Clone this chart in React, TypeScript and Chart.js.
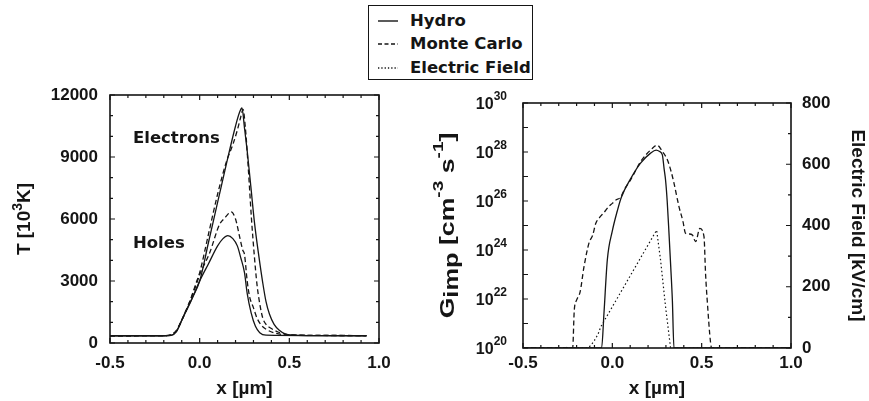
import { useEffect, useRef } from "react";
import { Chart, registerables } from "chart.js";

Chart.register(...registerables);

// ---------- Left panel: carrier temperature ----------
const elecHydroX = [-0.5, -0.2, -0.16, -0.13, -0.11, -0.08, -0.04, 0.0, 0.05, 0.1, 0.15, 0.2, 0.222, 0.236, 0.25, 0.265, 0.285, 0.306, 0.33, 0.352, 0.37, 0.389, 0.415, 0.444, 0.48, 0.55, 0.7, 0.93];
const elecHydroT = [350, 350, 370, 550, 900, 1500, 2200, 3000, 4900, 6800, 8700, 10500, 11150, 11370, 10400, 9300, 7600, 5800, 4200, 2900, 2000, 1400, 900, 620, 430, 370, 360, 350];

const elecMcX = [-0.5, -0.2, -0.16, -0.13, -0.1, -0.06, -0.02, 0.0, 0.05, 0.1, 0.15, 0.185, 0.21, 0.228, 0.242, 0.255, 0.27, 0.289, 0.305, 0.32, 0.335, 0.352, 0.37, 0.4, 0.44, 0.5, 0.6, 0.93];
const elecMcT = [350, 360, 400, 600, 1100, 1900, 2900, 3400, 5300, 7200, 8800, 9600, 10300, 10900, 11300, 10400, 8600, 6000, 4200, 2800, 1900, 1200, 900, 700, 520, 400, 370, 360];

const holeHydroX = [-0.5, -0.2, -0.16, -0.13, -0.1, -0.05, 0.0, 0.05, 0.1, 0.13, 0.157, 0.185, 0.21, 0.23, 0.25, 0.265, 0.287, 0.311, 0.335, 0.37, 0.93];
const holeHydroT = [350, 350, 370, 550, 1100, 2000, 3000, 3850, 4700, 5050, 5200, 5050, 4700, 4100, 3400, 2400, 1455, 806, 500, 380, 350];

const holeMcX = [-0.5, -0.2, -0.16, -0.13, -0.1, -0.06, -0.02, 0.0, 0.056, 0.111, 0.14, 0.176, 0.2, 0.222, 0.24, 0.25, 0.265, 0.278, 0.3, 0.32, 0.345, 0.38, 0.42, 0.5, 0.93];
const holeMcT = [350, 360, 400, 600, 1100, 1900, 2800, 3300, 4370, 5740, 6050, 6340, 6000, 5170, 4500, 4280, 3000, 2260, 1700, 1200, 850, 620, 480, 390, 360];

const annoTexts = ["Electrons", "Holes"];
const annoX = [-0.372, -0.372];
const annoY = [9865, 4820];

// ---------- Right panel: impact generation and field ----------
const gHydroX = [-0.5, -0.06, -0.047, -0.028, 0.0, 0.028, 0.05, 0.102, 0.158, 0.214, 0.245, 0.265, 0.28, 0.29, 0.298, 0.307, 0.317, 0.327, 0.336, 0.345, 1.0];
const gHydroV = [1e20, 1e20, 2.5e21, 4e23, 6e24, 4e25, 1.4e26, 8e26, 3.5e27, 9e27, 1.2e28, 1.05e28, 7.6e27, 2e27, 7e26, 1e26, 5e24, 2e23, 9e21, 1e20, 1e20];

const gMcX = [-0.5, -0.222, -0.213, -0.2, -0.18, -0.159, -0.13, -0.11, -0.093, -0.07, -0.045, -0.02, 0.0, 0.02, 0.045, 0.07, 0.102, 0.158, 0.214, 0.25, 0.28, 0.308, 0.33, 0.345, 0.373, 0.395, 0.41, 0.43, 0.448, 0.466, 0.49, 0.513, 0.522, 0.531, 0.55, 0.556, 1.0];
const gMcV = [1e20, 1e20, 3.5e21, 9e21, 2e22, 2e23, 2e24, 4e24, 1.2e25, 2.2e25, 3.5e25, 6e25, 8e25, 1.1e26, 1.4e26, 3.2e26, 7.2e26, 4e27, 1.2e28, 1.9e28, 1.05e28, 4.8e27, 1.5e27, 5.4e26, 5.9e25, 1.5e25, 4.8e24, 4.5e24, 4.1e24, 2.2e24, 7.6e24, 3.5e24, 1e23, 9e21, 1.6e20, 1e20, 1e20];

const fieldX = [-0.5, -0.27, -0.262, -0.255, -0.14, -0.12, -0.1, -0.08, -0.065, 0.248, 0.27, 0.298, 0.326, 1.0];
const fieldE = [0, 0, 5, 0, 0, 8, 25, 45, 69, 385, 287, 134, 0, 0];

// ---------- Ticks ----------
const xTickMinor = [-0.5, -0.4, -0.3, -0.2, -0.1, 0, 0.1, 0.2, 0.3, 0.4, 0.5, 0.6, 0.7, 0.8, 0.9, 1.0];
const xTickMajor = [-0.5, 0, 0.5, 1.0];
const tTickMinor = [0, 1000, 2000, 3000, 4000, 5000, 6000, 7000, 8000, 9000, 10000, 11000, 12000];
const tTickMajor = [0, 3000, 6000, 9000, 12000];
const gTickMinor = [1e20, 1e21, 1e22, 1e23, 1e24, 1e25, 1e26, 1e27, 1e28, 1e29, 1e30];
const gTickMajor = [1e20, 1e22, 1e24, 1e26, 1e28, 1e30];
const gTickExponents = ["20", "22", "24", "26", "28", "30"];
const eTickMinor = [0, 100, 200, 300, 400, 500, 600, 700, 800];
const eTickMajor = [0, 200, 400, 600, 800];

const gTitleParts = [
  { t: "G", size: 21, dy: 0 },
  { t: "imp", size: 20, dy: 4 },
  { t: " [cm", size: 21, dy: 0 },
  { t: "-3", size: 15, dy: -9 },
  { t: " s", size: 21, dy: 0 },
  { t: "-1", size: 15, dy: -9 },
  { t: "]", size: 21, dy: 0 },
];
const tTitleParts = [
  { t: "T [10", size: 19, dy: 0 },
  { t: "3", size: 14, dy: -7 },
  { t: "K]", size: 19, dy: 0 },
];

const INK = "#151515";
const NUM = "'Liberation Sans', Arial, sans-serif";
const WORD = "'DejaVu Sans', sans-serif";

const pts = (xs: number[], ys: number[]) => xs.map((x, i) => ({ x, y: ys[i] }));

function framePlugin(spec: any) {
  return {
    id: "frame",
    afterDatasetsDraw(chart: any) {
      const { ctx, chartArea: a, scales } = chart;
      ctx.save();
      ctx.strokeStyle = INK;
      ctx.lineWidth = 1.2;
      const sx = scales[spec.x];
      ctx.beginPath();
      for (const v of xTickMinor) {
        const p = sx.getPixelForValue(v);
        const len = xTickMajor.includes(v) ? 5 : 3;
        ctx.moveTo(p, a.bottom);
        ctx.lineTo(p, a.bottom - len);
        ctx.moveTo(p, a.top);
        ctx.lineTo(p, a.top + len);
      }
      const sl = scales[spec.left];
      for (const v of spec.leftMinor) {
        const p = sl.getPixelForValue(v);
        const len = spec.leftMajor.includes(v) ? 5 : 3;
        ctx.moveTo(a.left, p);
        ctx.lineTo(a.left + len, p);
        if (!spec.right) {
          ctx.moveTo(a.right, p);
          ctx.lineTo(a.right - len, p);
        }
      }
      if (spec.right) {
        const sr = scales[spec.right];
        for (const v of spec.rightMinor) {
          const p = sr.getPixelForValue(v);
          const len = spec.rightMajor.includes(v) ? 5 : 3;
          ctx.moveTo(a.right, p);
          ctx.lineTo(a.right - len, p);
        }
      }
      ctx.stroke();
      ctx.lineWidth = 1.6;
      ctx.strokeRect(a.left, a.top, a.right - a.left, a.bottom - a.top);
      ctx.restore();
    },
  };
}

const annoPlugin = {
  id: "anno",
  afterDraw(chart: any) {
    const { ctx, scales } = chart;
    ctx.save();
    ctx.fillStyle = INK;
    ctx.font = `bold 16.5px ${WORD}`;
    ctx.textAlign = "left";
    ctx.textBaseline = "middle";
    annoTexts.forEach((t, i) => {
      ctx.fillText(t, scales.x.getPixelForValue(annoX[i]), scales.y.getPixelForValue(annoY[i]));
    });
    ctx.restore();
  },
};

function rotatedTitlePlugin(id: string, parts: any[], cx: number, stretch: number) {
  return {
    id,
    afterDraw(chart: any) {
      const { ctx, chartArea: a } = chart;
      ctx.save();
      ctx.fillStyle = INK;
      ctx.translate(cx, (a.top + a.bottom) / 2);
      ctx.rotate(-Math.PI / 2);
      ctx.scale(stretch, 1);
      ctx.textBaseline = "middle";
      ctx.textAlign = "left";
      let total = 0;
      const widths = parts.map((p) => {
        ctx.font = `bold ${p.size}px ${NUM}`;
        const w = ctx.measureText(p.t).width;
        total += w;
        return w;
      });
      let x = -total / 2;
      parts.forEach((p, i) => {
        ctx.font = `bold ${p.size}px ${NUM}`;
        ctx.fillText(p.t, x, p.dy);
        x += widths[i];
      });
      ctx.restore();
    },
  };
}

const logLabelPlugin = {
  id: "logLabels",
  afterDraw(chart: any) {
    const { ctx, chartArea: a, scales } = chart;
    const s = scales.yG;
    ctx.save();
    ctx.fillStyle = INK;
    ctx.textBaseline = "middle";
    ctx.textAlign = "left";
    gTickMajor.forEach((v, i) => {
      const p = s.getPixelForValue(v);
      const exp = gTickExponents[i];
      ctx.font = `bold 12px ${NUM}`;
      const we = ctx.measureText(exp).width;
      ctx.font = `bold 16px ${NUM}`;
      const wb = ctx.measureText("10").width;
      const right = a.left - 16;
      ctx.fillText("10", right - we - wb, p + 2);
      ctx.font = `bold 12px ${NUM}`;
      ctx.fillText(exp, right - we, p - 6);
    });
    ctx.restore();
  },
};

const solid = (data: any, yAxisID: string) => ({ data, yAxisID, borderColor: INK, borderWidth: 1.3, pointRadius: 0, fill: false, cubicInterpolationMode: "monotone" as const });
const dashed = (data: any, yAxisID: string) => ({ ...solid(data, yAxisID), borderDash: [5, 3] });
const dotted = (data: any, yAxisID: string) => ({ data, yAxisID, borderColor: INK, borderWidth: 1.2, pointRadius: 0, fill: false, tension: 0, borderDash: [1.5, 2.5] });

const tickFont = { family: NUM, size: 17, weight: "bold" as const };
const titleFont = { family: NUM, size: 19, weight: "bold" as const };
const noGrid = { display: false, drawTicks: false, tickLength: 0 };

function setTicks(values: number[]) {
  return (s: any) => {
    s.ticks = values.map((v) => ({ value: v }));
  };
}

export default function App() {
  const leftRef = useRef<HTMLCanvasElement>(null);
  const rightRef = useRef<HTMLCanvasElement>(null);

  useEffect(() => {
    const left = new Chart(leftRef.current!, {
      type: "line",
      data: {
        datasets: [
          solid(pts(elecHydroX, elecHydroT), "y"),
          dashed(pts(elecMcX, elecMcT), "y"),
          solid(pts(holeHydroX, holeHydroT), "y"),
          dashed(pts(holeMcX, holeMcT), "y"),
        ] as any,
      },
      options: {
        animation: false,
        responsive: false,
        devicePixelRatio: 1,
        layout: { padding: { left: 0, top: 95, right: 61, bottom: 0 } },
        plugins: { legend: { display: false }, tooltip: { enabled: false } },
        scales: {
          x: {
            type: "linear",
            min: -0.5,
            max: 1.0,
            afterBuildTicks: setTicks(xTickMajor),
            afterFit: (s: any) => { s.height = 58; },
            ticks: { font: tickFont, color: INK, padding: 10, maxRotation: 0, autoSkip: false, callback: (v: any) => Number(v).toFixed(1) },
            grid: noGrid,
            border: { display: false },
            title: { display: true, text: "x [µm]", font: titleFont, color: INK, padding: { top: 0, bottom: 1 } },
          },
          y: {
            type: "linear",
            min: 0,
            max: 12000,
            afterBuildTicks: setTicks(tTickMajor),
            afterFit: (s: any) => { s.width = 110; },
            ticks: { font: tickFont, color: INK, padding: 12, callback: (v: any) => String(v) },
            grid: noGrid,
            border: { display: false },
            title: { display: false },
          },
        },
      } as any,
      plugins: [
        framePlugin({ x: "x", left: "y", leftMinor: tTickMinor, leftMajor: tTickMajor }),
        annoPlugin,
        rotatedTitlePlugin("tTitle", tTitleParts, 25, 1),
      ],
    });

    const right = new Chart(rightRef.current!, {
      type: "line",
      data: {
        datasets: [
          solid(pts(gHydroX, gHydroV), "yG"),
          dashed(pts(gMcX, gMcV), "yG"),
          dotted(pts(fieldX, fieldE), "yE"),
        ] as any,
      },
      options: {
        animation: false,
        responsive: false,
        devicePixelRatio: 1,
        layout: { padding: { left: 0, top: 103, right: 0, bottom: 0 } },
        plugins: { legend: { display: false }, tooltip: { enabled: false } },
        scales: {
          x: {
            type: "linear",
            min: -0.5,
            max: 1.0,
            afterBuildTicks: setTicks(xTickMajor),
            afterFit: (s: any) => { s.height = 53; },
            ticks: { font: tickFont, color: INK, padding: 5, maxRotation: 0, autoSkip: false, callback: (v: any) => Number(v).toFixed(1) },
            grid: noGrid,
            border: { display: false },
            title: { display: true, text: "x [µm]", font: titleFont, color: INK, padding: { top: 0, bottom: 1 } },
          },
          yG: {
            type: "logarithmic",
            position: "left",
            min: 1e20,
            max: 1e30,
            afterBuildTicks: setTicks(gTickMajor),
            afterFit: (s: any) => { s.width = 93; },
            ticks: { display: false },
            grid: noGrid,
            border: { display: false },
            title: { display: false },
          },
          yE: {
            type: "linear",
            position: "right",
            min: 0,
            max: 800,
            afterBuildTicks: setTicks(eTickMajor),
            afterFit: (s: any) => { s.width = 78; },
            ticks: { font: tickFont, color: INK, padding: 11, callback: (v: any) => String(v) },
            grid: noGrid,
            border: { display: false },
            title: { display: true, text: "Electric Field [kV/cm]", font: titleFont, color: INK, padding: { top: 0, bottom: 0 } },
          },
        },
      } as any,
      plugins: [
        framePlugin({ x: "x", left: "yG", leftMinor: gTickMinor, leftMajor: gTickMinor, right: "yE", rightMinor: eTickMinor, rightMajor: eTickMajor }),
        logLabelPlugin,
        rotatedTitlePlugin("gTitle", gTitleParts, 18, 1.27),
      ],
    });

    return () => {
      left.destroy();
      right.destroy();
    };
  }, []);

  const legendRows = [
    { label: "Hydro", dash: "" },
    { label: "Monte Carlo", dash: "4 2.5" },
    { label: "Electric Field", dash: "1.3 2" },
  ];
  const rowTops = [15, 38, 62];

  return (
    <div style={{ position: "absolute", left: 0, top: 0, width: 869, height: 401, background: "#fff", overflow: "hidden" }}>
      <canvas ref={leftRef} width={440} height={401} style={{ position: "absolute", left: 0, top: 0 }} />
      <canvas ref={rightRef} width={439} height={401} style={{ position: "absolute", left: 430, top: 0 }} />
      <div
        style={{
          position: "absolute",
          left: 368,
          top: 5,
          width: 163,
          height: 73,
          border: `1.5px solid ${INK}`,
          background: "#fff",
          fontFamily: WORD,
          fontWeight: "bold",
          fontSize: 16.5,
          color: INK,
        }}
      >
        {legendRows.map((r, i) => (
          <div key={r.label} style={{ position: "absolute", left: 0, top: rowTops[i] - 11, height: 22, width: "100%" }}>
            <svg width={22} height={22} style={{ position: "absolute", left: 9, top: 0 }}>
              <line x1={0} y1={11} x2={20} y2={11} stroke={INK} strokeWidth={1.4} strokeDasharray={r.dash || undefined} />
            </svg>
            <span style={{ position: "absolute", left: 41, top: 0, lineHeight: "22px", whiteSpace: "nowrap" }}>{r.label}</span>
          </div>
        ))}
      </div>
    </div>
  );
}
